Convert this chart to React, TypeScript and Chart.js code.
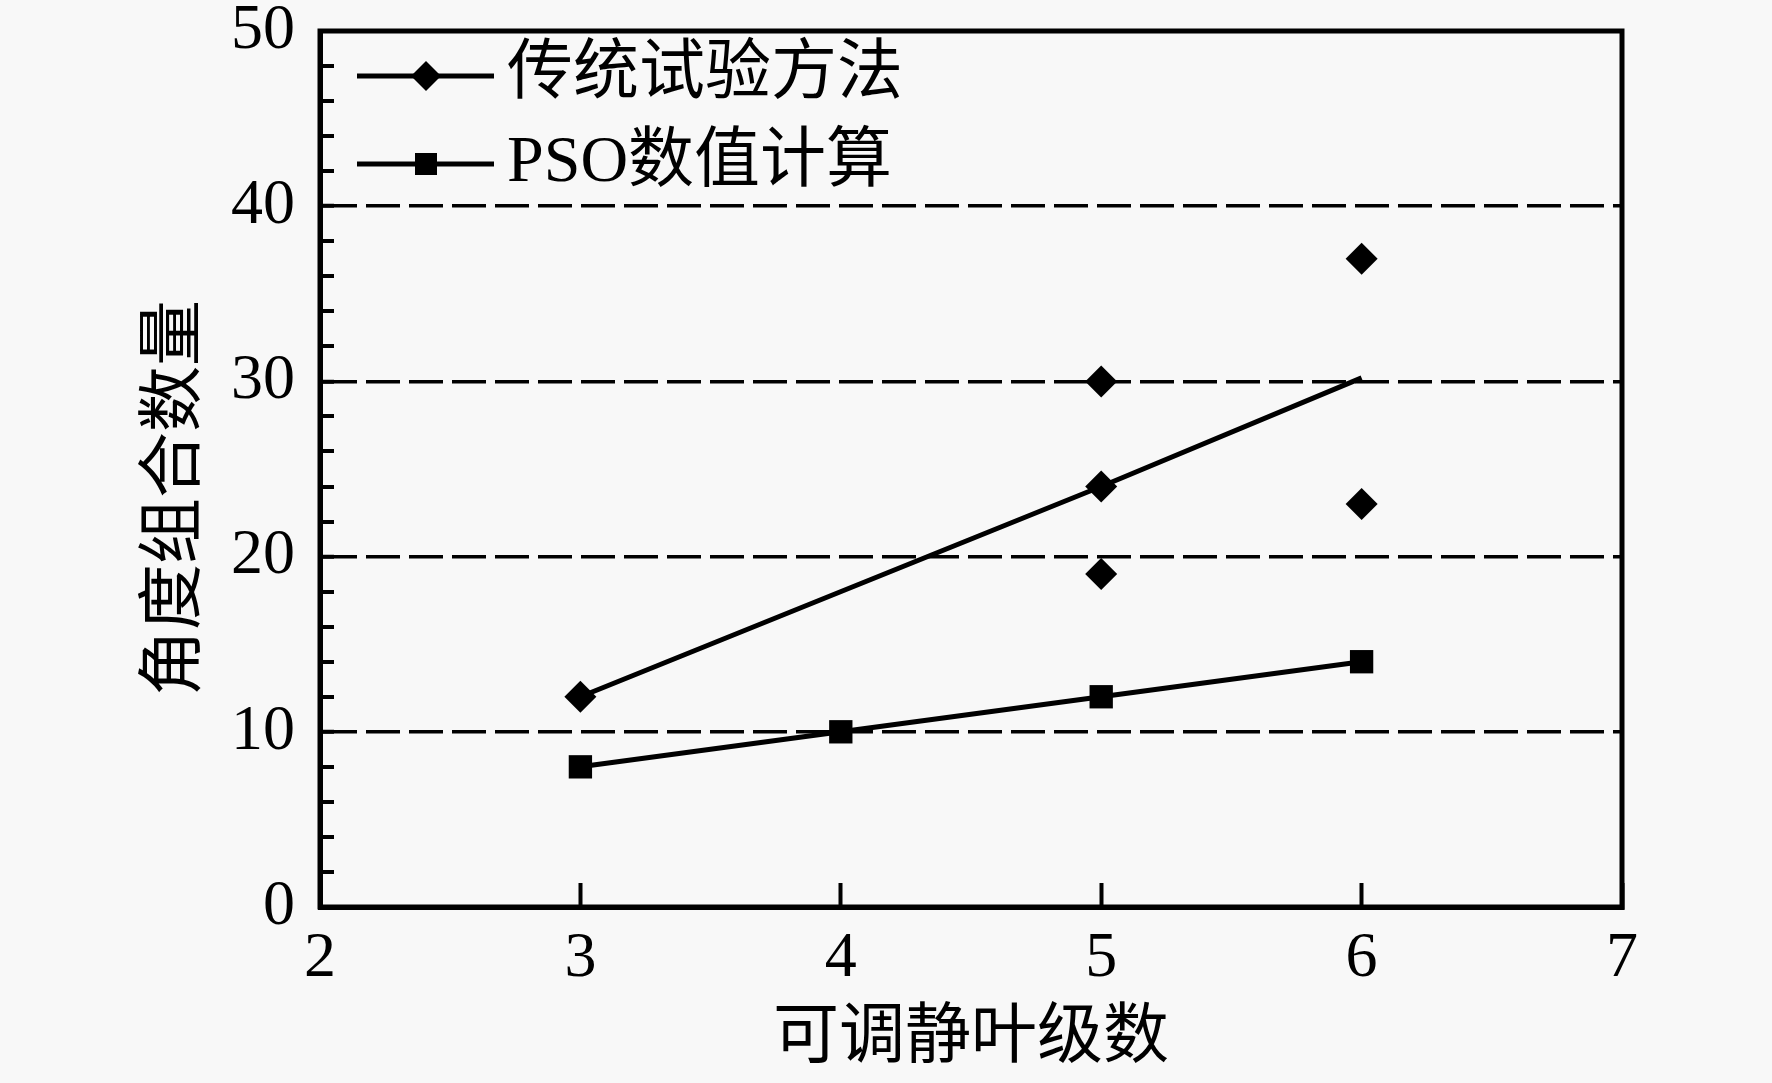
import { useEffect, useRef } from 'react'
import { Chart, registerables, type Plugin } from 'chart.js'

Chart.register(...registerables)

// ---- data ----
const PSO_STAGES = [3, 4, 5, 6]
const PSO_COUNTS = [8, 10, 12, 14]

const TRAD_STAGES = [3, 5, 5, 5, 6, 6]
const TRAD_COUNTS = [12, 30, 24, 19, 37, 23]

// trend line of the traditional method
const TRAD_FIT_STAGES = [3, 5, 6]
const TRAD_FIT_COUNTS = [12, 24, 30.2]

const LEGEND_LABELS = ['传统试验方法', 'PSO数值计算']
const X_TITLE = '可调静叶级数'
const Y_TITLE = '角度组合数量'

const INK = '#000'
const BG = '#f8f8f8'
const FONT = '"Liberation Serif", "Times New Roman", "Noto Sans CJK SC", serif'
const LINE_W = 5

const toPoints = (xs: number[], ys: number[]) => xs.map((x, i) => ({ x, y: ys[i] }))

function drawDiamond(ctx: CanvasRenderingContext2D, x: number, y: number, r: number) {
  ctx.beginPath()
  ctx.moveTo(x, y - r)
  ctx.lineTo(x + r, y)
  ctx.lineTo(x, y + r)
  ctx.lineTo(x - r, y)
  ctx.closePath()
  ctx.fill()
}

// frame, axis titles and the in-plot legend
const decorPlugin: Plugin<'scatter'> = {
  id: 'decor',
  afterDraw(chart) {
    const { ctx, chartArea: a } = chart
    ctx.save()
    ctx.strokeStyle = INK
    ctx.fillStyle = INK
    ctx.lineWidth = 5
    ctx.strokeRect(a.left, a.top, a.right - a.left, a.bottom - a.top)

    ctx.font = `66px ${FONT}`
    ctx.textAlign = 'center'
    ctx.textBaseline = 'middle'
    ctx.fillText(X_TITLE, (a.left + a.right) / 2, a.bottom + 133)

    ctx.save()
    ctx.translate(a.left - 143, (a.top + a.bottom) / 2 + 29)
    ctx.rotate(-Math.PI / 2)
    ctx.fillText(Y_TITLE, 0, 0)
    ctx.restore()

    // legend
    const x0 = a.left + 37
    const x1 = a.left + 174
    const xm = a.left + 106
    const rows = [a.top + 45, a.top + 133]
    ctx.lineWidth = LINE_W
    ctx.textAlign = 'left'
    rows.forEach((ry, i) => {
      ctx.beginPath()
      ctx.moveTo(x0, ry)
      ctx.lineTo(x1, ry)
      ctx.stroke()
      if (i === 0) drawDiamond(ctx, xm, ry, 15)
      else ctx.fillRect(xm - 11, ry - 11, 22, 22)
      ctx.fillText(LEGEND_LABELS[i], a.left + 187, ry)
    })
    ctx.restore()
  },
}

export default function App() {
  const canvasRef = useRef<HTMLCanvasElement>(null)

  useEffect(() => {
    const canvas = canvasRef.current
    if (!canvas) return
    Chart.getChart(canvas)?.destroy()

    const chart = new Chart(canvas, {
      type: 'scatter',
      data: {
        datasets: [
          {
            label: 'fit',
            data: toPoints(TRAD_FIT_STAGES, TRAD_FIT_COUNTS),
            showLine: true,
            borderColor: INK,
            borderWidth: LINE_W,
            pointRadius: 0,
          },
          {
            label: LEGEND_LABELS[0],
            data: toPoints(TRAD_STAGES, TRAD_COUNTS),
            showLine: false,
            pointStyle: 'rectRot',
            pointRadius: 16,
            pointBackgroundColor: INK,
            pointBorderWidth: 0,
          },
          {
            label: LEGEND_LABELS[1],
            data: toPoints(PSO_STAGES, PSO_COUNTS),
            showLine: true,
            borderColor: INK,
            borderWidth: LINE_W,
            pointStyle: 'rect',
            pointRadius: 16.5,
            pointBackgroundColor: INK,
            pointBorderWidth: 0,
          },
        ],
      },
      options: {
        animation: false,
        responsive: true,
        maintainAspectRatio: false,
        events: [],
        layout: { padding: { top: 31, right: 150, left: 0, bottom: 0 } },
        plugins: { legend: { display: false }, tooltip: { enabled: false } },
        scales: {
          x: {
            type: 'linear',
            min: 2,
            max: 7,
            afterFit: (s) => {
              s.height = 176
              s.paddingLeft = 0
              s.paddingRight = 0
            },
            ticks: {
              stepSize: 1,
              color: INK,
              padding: 44,
              font: { family: FONT, size: 64, lineHeight: 1 },
            },
            grid: { drawOnChartArea: false, tickLength: -24, tickWidth: 4, tickColor: INK },
            border: { color: INK, width: 5 },
          },
          y: {
            type: 'linear',
            min: 0,
            max: 50,
            afterFit: (s) => {
              s.width = 320
              s.paddingTop = 0
              s.paddingBottom = 0
            },
            ticks: {
              stepSize: 2,
              autoSkip: false,
              color: INK,
              padding: 39,
              font: { family: FONT, size: 64, lineHeight: 1 },
              callback: (v) => (Number(v) % 10 === 0 ? String(v) : ''),
            },
            grid: {
              color: (c) => {
                const v = c.tick?.value ?? 0
                return v % 10 === 0 && v > 0 && v < 50 ? INK : 'transparent'
              },
              lineWidth: (c) => {
                const v = c.tick?.value ?? 0
                return v % 10 === 0 && v > 0 && v < 50 ? 3.5 : 0
              },
              tickLength: -14,
              tickWidth: 4,
              tickColor: INK,
            },
            border: { color: INK, width: 5, dash: [34, 9] },
          },
        },
      },
      plugins: [decorPlugin],
    })

    return () => {
      chart.destroy()
    }
  }, [])

  return (
    <div style={{ position: 'fixed', left: 0, top: 0, width: 1772, height: 1083, background: BG }}>
      <canvas ref={canvasRef} />
    </div>
  )
}
